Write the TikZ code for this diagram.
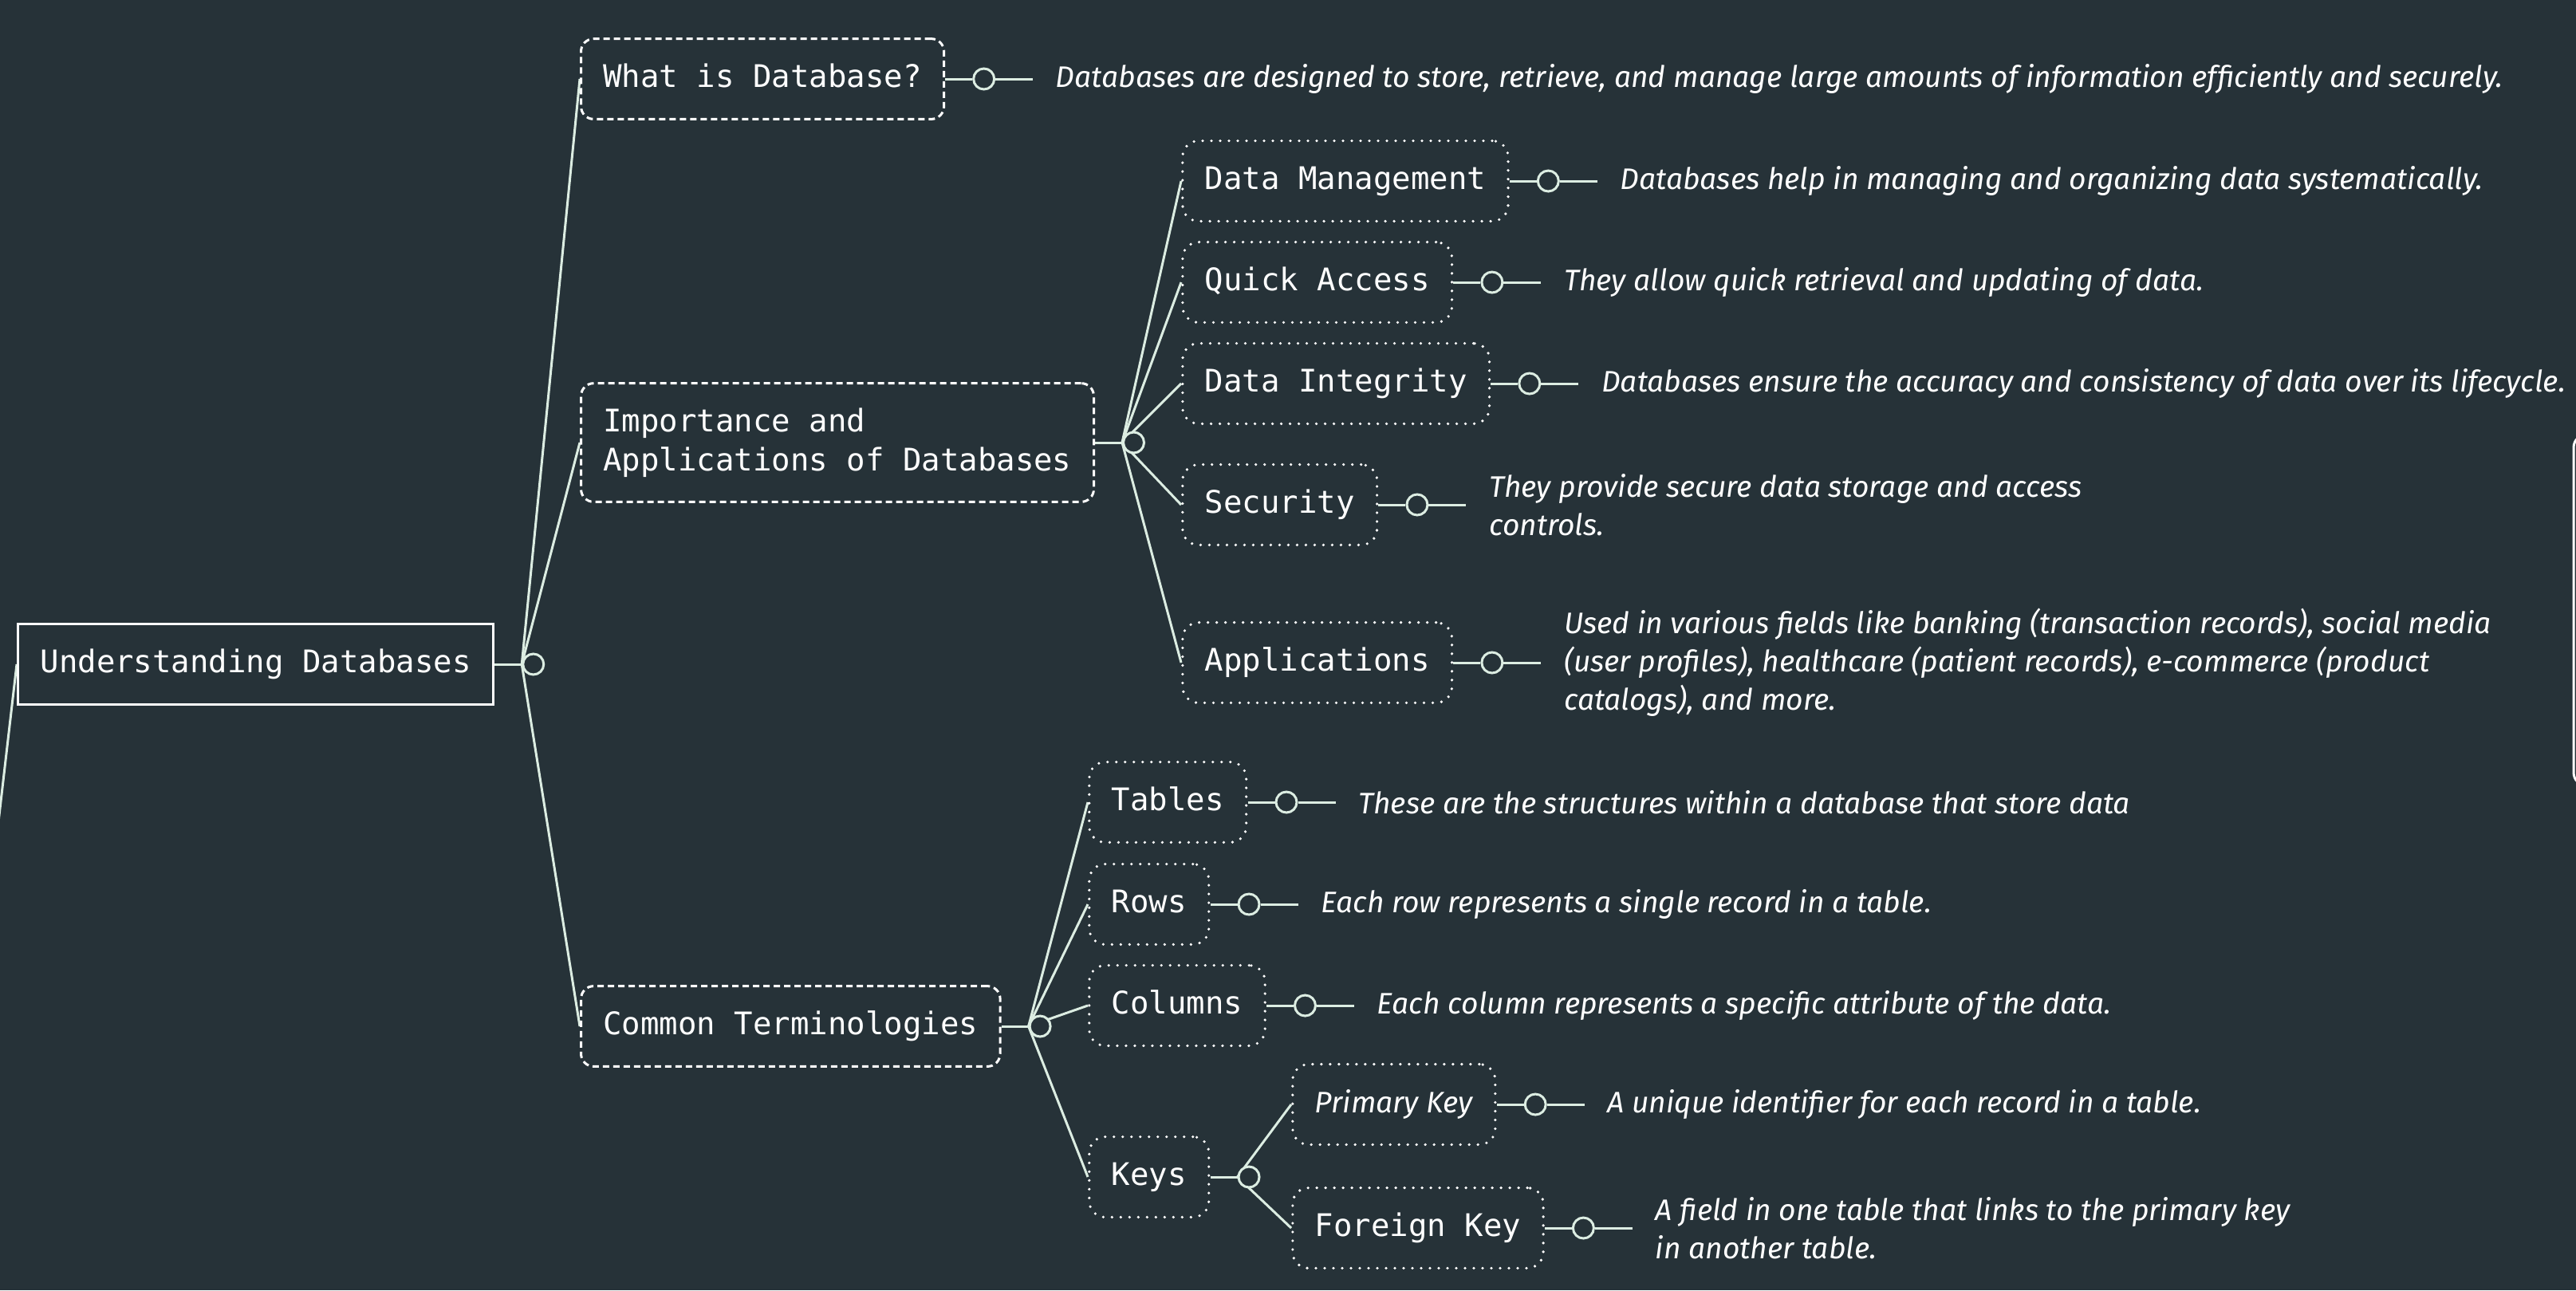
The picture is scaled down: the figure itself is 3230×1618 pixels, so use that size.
\documentclass[tikz,border=0pt]{standalone}
\usepackage{fontspec}
\setmonofont{DejaVu Sans Mono}
\newfontfamily\notefont{Fira Sans}
\usepackage{tikz}
\usetikzlibrary{positioning,backgrounds}

\definecolor{bgdark}{HTML}{263238}
\definecolor{linkmint}{HTML}{DCEDE2}

\begin{document}
\begin{tikzpicture}[
  x=0.25pt,
  y=-0.25pt,
  every node/.style={font=\ttfamily\fontsize{9.75pt}{12.25pt}\selectfont, text=white},
  tight/.style={text height=7.4pt, text depth=2.3pt},
  rootbox/.style={draw=white, line width=0.8pt, tight, inner xsep=7pt, inner ysep=7.75pt, anchor=west},
  topicbox/.style={draw=white, line width=0.75pt, dash pattern=on 2pt off 1.25pt,
    rounded corners=4pt, inner xsep=7pt, inner ysep=7.75pt, anchor=west, align=left},
  subbox/.style={draw=white, line width=0.9pt, dash pattern=on 0pt off 2.75pt, line cap=round,
    rounded corners=5pt, tight, inner xsep=7pt, inner ysep=7.75pt, anchor=west},
  hub/.style={circle, draw=linkmint, fill=bgdark, line width=0.75pt, minimum size=6.5pt, inner sep=0pt},
  link/.style={draw=linkmint, line width=0.75pt},
  note/.style={font=\notefont\itshape\fontsize{9.3pt}{12pt}\selectfont, anchor=west, align=left, inner sep=0pt},
]
\path[use as bounding box] (0,0) rectangle (3230,1618);
\clip (0,0) rectangle (3230,1618);
\begin{pgfonlayer}{background}
  \fill[bgdark] (0,0) rectangle (3230,1618);
\end{pgfonlayer}

% Root.
\node[rootbox] (udb) at (21,833) {Understanding Databases};
\node[hub, right=8.5pt of udb] (udb-hub) {};

% First level.
\node[topicbox, tight] (whatis) at (727,99) {What is Database?};
\node[topicbox] (importance) at (727,555) {Importance and\\Applications of Databases};
\node[topicbox, tight] (terms) at (727,1287) {Common Terminologies};
\node[hub, right=8.5pt of importance] (importance-hub) {};
\node[hub, right=8.5pt of terms] (terms-hub) {};

% Importance branch.
\node[subbox] (dataMgmt) at (1481,227) {Data Management};
\node[subbox] (quickAccess) at (1481,354) {Quick Access};
\node[subbox] (integrity) at (1481,481) {Data Integrity};
\node[subbox] (security) at (1481,633) {Security};
\node[subbox] (apps) at (1481,831) {Applications};

% Terminology branch.
\node[subbox] (tables) at (1364,1006) {Tables};
\node[subbox] (rows) at (1364,1134) {Rows};
\node[subbox] (columns) at (1364,1261) {Columns};
\node[subbox] (keys) at (1364,1476) {Keys};
\node[hub, right=8.5pt of keys] (keys-hub) {};
\node[subbox, font=\notefont\itshape\fontsize{9.3pt}{12pt}\selectfont] (primaryKey) at (1619,1385) {Primary Key};
\node[subbox] (foreignKey) at (1619,1540) {Foreign Key};

% Fan-out connectors.
\begin{pgfonlayer}{background}
  \coordinate (offLeft) at (-10,1100);
  \draw[link] (udb.west) -- (offLeft);
  \draw[link] (udb.east) -- (udb-hub.west);
  \foreach \kid in {whatis,importance,terms}
    \draw[link] (udb-hub.west) -- (\kid.west);
  \draw[link] (importance.east) -- (importance-hub.west);
  \foreach \kid in {dataMgmt,quickAccess,integrity,security,apps}
    \draw[link] (importance-hub.west) -- (\kid.west);
  \draw[link] (terms.east) -- (terms-hub.west);
  \foreach \kid in {tables,rows,columns,keys}
    \draw[link] (terms-hub.west) -- (\kid.west);
  \draw[link] (keys.east) -- (keys-hub.west);
  \foreach \kid in {primaryKey,foreignKey}
    \draw[link] (keys-hub.west) -- (\kid.west);
\end{pgfonlayer}

% Leaf notes.
\foreach \nm/\desc in {
  whatis/{Databases are designed to store, retrieve, and manage large amounts of information efficiently and securely.},
  dataMgmt/{Databases help in managing and organizing data systematically.},
  quickAccess/{They allow quick retrieval and updating of data.},
  integrity/{Databases ensure the accuracy and consistency of data over its lifecycle.},
  security/{They provide secure data storage and access\\controls.},
  apps/{Used in various fields like banking (transaction records), social media\\(user profiles), healthcare (patient records), e-commerce (product\\catalogs), and more.},
  tables/{These are the structures within a database that store data},
  rows/{Each row represents a single record in a table.},
  columns/{Each column represents a specific attribute of the data.},
  primaryKey/{A unique identifier for each record in a table.},
  foreignKey/{A field in one table that links to the primary key\\in another table.}} {
  \node[hub, right=8.5pt of \nm] (\nm-hub) {};
  \coordinate[right=11.75pt of \nm-hub] (\nm-end);
  \node[note, right=7pt of \nm-end] (\nm-note) {\desc};
  \begin{pgfonlayer}{background}
    \draw[link] (\nm.east) -- (\nm-hub.west) (\nm-hub.east) -- (\nm-end);
  \end{pgfonlayer}
}

% Edge of a box beyond the right margin.
\draw[white, line width=0.75pt, rounded corners=4pt] (3300,545) -- (3227,545) -- (3227,985) -- (3300,985);

\end{tikzpicture}
\end{document}
